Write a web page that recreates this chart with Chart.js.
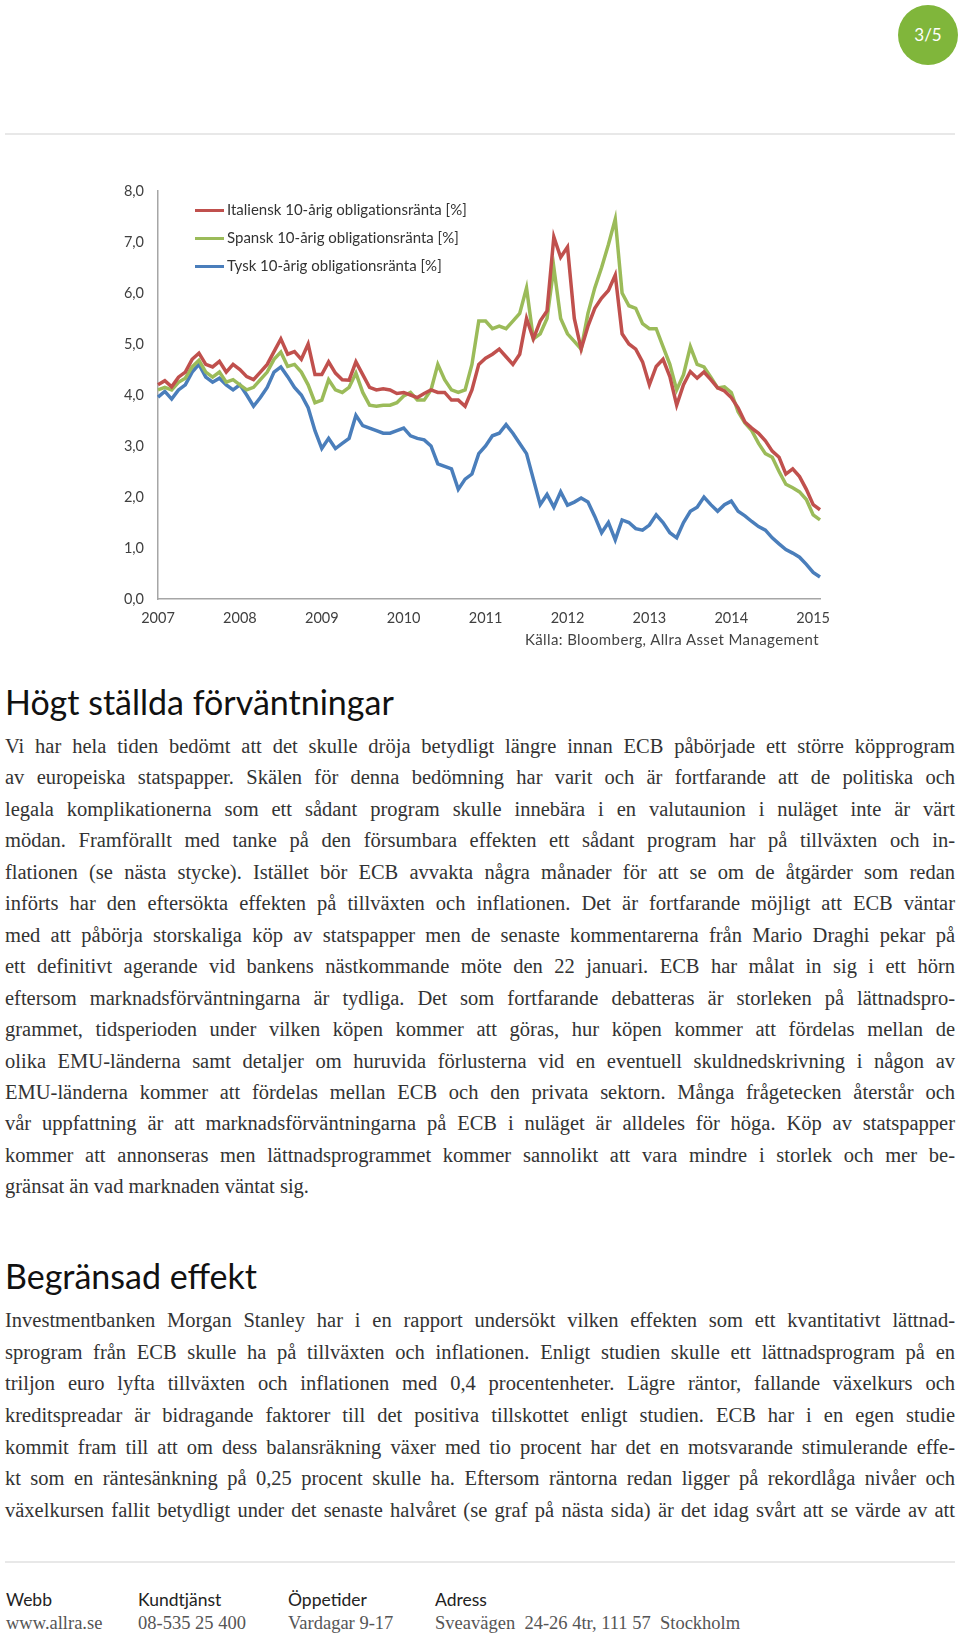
<!DOCTYPE html>
<html>
<head>
<meta charset="utf-8">
<script src="https://cdn.jsdelivr.net/npm/chart.js@4"></script>
<style>
  html, body { margin: 0; padding: 0; background: #fff; }
  body { width: 960px; height: 1637px; position: relative; overflow: hidden; font-family: Lato, sans-serif; }
  .badge { position: absolute; left: 898px; top: 5px; width: 60px; height: 60px; border-radius: 50%; background: #80b63b; color: #fff; font-size: 17px; line-height: 60px; text-align: center; }
  .rule { position: absolute; left: 5px; width: 950px; height: 2px; background: #e8e8e8; }
  #wrap { position: absolute; left: 0; top: 150px; width: 960px; height: 500px; }
  .legend { position: absolute; left: 195px; font-size: 15px; color: #333; font-variant-ligatures: none; }
  .legend div { position: absolute; left: 0; height: 28px; line-height: 28px; white-space: nowrap; }
  .legend span { display: inline-block; width: 29px; height: 3px; vertical-align: middle; margin-right: 3px; position: relative; top: -1px; }
  .source { position: absolute; right: 141px; top: 630px; font-size: 15px; letter-spacing: 0.4px; color: #444; }
  h2 { position: absolute; left: 5px; margin: 0; font-weight: 400; font-size: 34px; color: #111; line-height: 40px; font-family: Lato, sans-serif; }
  .para { position: absolute; left: 5px; width: 950px; font-family: "Liberation Serif", serif; font-size: 20.5px; color: #333; }
  .para div { text-align: justify; text-align-last: justify; white-space: nowrap; }
  .para div.last { text-align-last: left; }
  .foot { position: absolute; font-size: 17.5px; }
  .foot .h { color: #222; font-family: Lato, sans-serif; }
  .foot .v { color: #555; font-family: "Liberation Serif", serif; font-size: 18.5px; margin-top: 3px; }
</style>
</head>
<body>
<div class="badge">3/5</div>
<div class="rule" style="top:133px"></div>

<div id="wrap"><canvas id="myChart"></canvas></div>
<div class="legend" id="legend" style="top:195px"></div>
<div class="source">Källa: Bloomberg, Allra Asset Management</div>

<h2 style="top:682px">Högt ställda förväntningar</h2>
<div class="para" style="top:731px; line-height:31.45px">
<div>Vi har hela tiden bedömt att det skulle dröja betydligt längre innan ECB påbörjade ett större köpprogram</div>
<div>av europeiska statspapper. Skälen för denna bedömning har varit och är fortfarande att de politiska och</div>
<div>legala komplikationerna som ett sådant program skulle innebära i en valutaunion i nuläget inte är värt</div>
<div>mödan. Framförallt med tanke på den försumbara effekten ett sådant program har på tillväxten och in-</div>
<div>flationen (se nästa stycke). Istället bör ECB avvakta några månader för att se om de åtgärder som redan</div>
<div>införts har den eftersökta effekten på tillväxten och inflationen. Det är fortfarande möjligt att ECB väntar</div>
<div>med att påbörja storskaliga köp av statspapper men de senaste kommentarerna från Mario Draghi pekar på</div>
<div>ett definitivt agerande vid bankens nästkommande möte den 22 januari. ECB har målat in sig i ett hörn</div>
<div>eftersom marknadsförväntningarna är tydliga. Det som fortfarande debatteras är storleken på lättnadspro-</div>
<div>grammet, tidsperioden under vilken köpen kommer att göras, hur köpen kommer att fördelas mellan de</div>
<div>olika EMU-länderna samt detaljer om huruvida förlusterna vid en eventuell skuldnedskrivning i någon av</div>
<div>EMU-länderna kommer att fördelas mellan ECB och den privata sektorn. Många frågetecken återstår och</div>
<div>vår uppfattning är att marknadsförväntningarna på ECB i nuläget är alldeles för höga. Köp av statspapper</div>
<div>kommer att annonseras men lättnadsprogrammet kommer sannolikt att vara mindre i storlek och mer be-</div>
<div class="last">gränsat än vad marknaden väntat sig.</div>
</div>

<h2 style="top:1256px">Begränsad effekt</h2>
<div class="para" style="top:1305px; line-height:31.65px">
<div>Investmentbanken Morgan Stanley har i en rapport undersökt vilken effekten som ett kvantitativt lättnad-</div>
<div>sprogram från ECB skulle ha på tillväxten och inflationen. Enligt studien skulle ett lättnadsprogram på en</div>
<div>triljon euro lyfta tillväxten och inflationen med 0,4 procentenheter. Lägre räntor, fallande växelkurs och</div>
<div>kreditspreadar är bidragande faktorer till det positiva tillskottet enligt studien. ECB har i en egen studie</div>
<div>kommit fram till att om dess balansräkning växer med tio procent har det en motsvarande stimulerande effe-</div>
<div>kt som en räntesänkning på 0,25 procent skulle ha. Eftersom räntorna redan ligger på rekordlåga nivåer och</div>
<div>växelkursen fallit betydligt under det senaste halvåret (se graf på nästa sida) är det idag svårt att se värde av att</div>
</div>

<div class="rule" style="top:1561px"></div>
<div class="foot" style="left:6px; top:1589px"><div class="h">Webb</div><div class="v">www.allra.se</div></div>
<div class="foot" style="left:138px; top:1589px"><div class="h">Kundtjänst</div><div class="v">08-535 25 400</div></div>
<div class="foot" style="left:288px; top:1589px"><div class="h">Öppetider</div><div class="v">Vardagar 9-17</div></div>
<div class="foot" style="left:435px; top:1589px"><div class="h">Adress</div><div class="v">Sveavägen&nbsp; 24-26 4tr, 111 57&nbsp; Stockholm</div></div>

<script>
const ctx = document.getElementById('myChart');

// monthly observations, Jan 2007 - mid Jan 2015
const years = [2007, 2008, 2009, 2010, 2011, 2012, 2013, 2014];
const months = ['01','02','03','04','05','06','07','08','09','10','11','12'];
const dates = [];
years.forEach(y => months.forEach(m => dates.push(y + '-' + m)));
dates.push('2015-01', '2015-01-15');

const seriesNames = [
  'Italiensk 10-årig obligationsränta [%]',
  'Spansk 10-årig obligationsränta [%]',
  'Tysk 10-årig obligationsränta [%]'
];
const seriesColors = ['#c0504d', '#9bbb59', '#4a7ebb'];

const italy = [
  4.20, 4.28, 4.16, 4.35, 4.45, 4.70, 4.82, 4.60, 4.55, 4.66, 4.45, 4.60,
  4.50, 4.36, 4.30, 4.45, 4.60, 4.85, 5.10, 4.80, 4.85, 4.70, 5.00, 4.40,
  4.40, 4.65, 4.43, 4.30, 4.29, 4.65, 4.40, 4.15, 4.10, 4.12, 4.10, 4.03,
  4.05, 4.00, 3.95, 4.03, 4.10, 4.05, 4.05, 3.90, 3.90, 3.78, 4.10, 4.60,
  4.72, 4.80, 4.90, 4.75, 4.60, 4.80, 5.50, 5.10, 5.45, 5.65, 7.10, 6.70,
  6.90, 5.50, 4.90, 5.35, 5.70, 5.90, 6.05, 6.35, 5.20, 5.00, 4.90, 4.65,
  4.20, 4.56, 4.70, 4.36, 3.80, 4.20, 4.46, 4.33, 4.45, 4.30, 4.14, 4.08,
  3.95, 3.75, 3.47, 3.35, 3.25, 3.10, 2.90, 2.78, 2.45, 2.55, 2.40, 2.15,
  1.85, 1.75
];
const spain = [
  4.10, 4.15, 4.10, 4.25, 4.33, 4.55, 4.68, 4.45, 4.35, 4.45, 4.25, 4.30,
  4.20, 4.10, 4.15, 4.30, 4.45, 4.70, 4.84, 4.56, 4.60, 4.45, 4.20, 3.85,
  3.90, 4.30, 4.10, 4.05, 4.15, 4.43, 4.05, 3.80, 3.78, 3.80, 3.80, 3.85,
  3.98, 4.05, 3.90, 3.90, 4.10, 4.60, 4.30, 4.10, 4.05, 4.10, 4.60, 5.45,
  5.45, 5.30, 5.35, 5.30, 5.45, 5.60, 6.10, 5.10, 5.20, 5.50, 6.50, 5.50,
  5.20, 5.05, 4.90, 5.60, 6.10, 6.50, 6.95, 7.45, 6.00, 5.75, 5.70, 5.40,
  5.30, 5.30, 4.95, 4.60, 4.10, 4.40, 4.95, 4.60, 4.55, 4.35, 4.14, 4.16,
  4.05, 3.67, 3.45, 3.30, 3.05, 2.85, 2.78, 2.50, 2.25, 2.18, 2.10, 1.95,
  1.65, 1.55
];
const germany = [
  3.96, 4.07, 3.92, 4.10, 4.20, 4.45, 4.60, 4.35, 4.25, 4.33, 4.20, 4.10,
  4.20, 4.00, 3.78, 3.95, 4.15, 4.45, 4.55, 4.36, 4.15, 4.00, 3.75, 3.30,
  2.95, 3.15, 2.95, 3.05, 3.15, 3.60, 3.40, 3.35, 3.30, 3.25, 3.25, 3.30,
  3.35, 3.20, 3.15, 3.12, 3.00, 2.65, 2.60, 2.55, 2.15, 2.35, 2.45, 2.85,
  3.00, 3.20, 3.25, 3.42, 3.25, 3.05, 2.85, 2.35, 1.85, 2.05, 1.80, 2.10,
  1.84, 1.90, 1.98, 1.90, 1.62, 1.30, 1.50, 1.16, 1.55, 1.50, 1.38, 1.35,
  1.45, 1.65, 1.50, 1.30, 1.20, 1.50, 1.72, 1.80, 2.00, 1.85, 1.72, 1.85,
  1.92, 1.72, 1.63, 1.52, 1.42, 1.35, 1.20, 1.08, 0.97, 0.90, 0.82, 0.68,
  0.52, 0.43
];

const yTicks = [0, 1, 2, 3, 4, 5, 6, 7, 8];
const values = [italy, spain, germany];

// legend as plain text above the plot
const legendEl = document.getElementById('legend');
seriesNames.forEach((name, i) => {
  const row = document.createElement('div');
  row.style.top = (i * 28) + 'px';
  row.innerHTML = '<span style="background:' + seriesColors[i] + '"></span>' + name;
  legendEl.appendChild(row);
});

new Chart(ctx, {
  type: 'line',
  data: {
    labels: dates,
    datasets: seriesNames.map((name, i) => ({
      label: name,
      data: values[i],
      borderColor: seriesColors[i],
      backgroundColor: seriesColors[i],
      borderWidth: 3.5,
      pointRadius: 0,
      tension: 0
    }))
  },
  options: {
    responsive: true,
    maintainAspectRatio: false,
    animation: false,
    layout: { padding: { left: 108, right: 140, top: 41, bottom: 21 } },
    plugins: { legend: { display: false }, tooltip: { enabled: false } },
    scales: {
      x: {
        grid: { drawOnChartArea: false, drawTicks: false },
        border: { color: '#a6a6a6', width: 1.5 },
        afterFit: s => { s.height = 30; },
        ticks: {
          autoSkip: false,
          maxRotation: 0,
          padding: 11,
          color: '#404040',
          font: { family: 'Lato', size: 14.5 },
          callback: function(value) {
            const lab = this.getLabelForValue(value);
            return lab.length === 7 && lab.endsWith('-01') ? lab.slice(0, 4) : null;
          }
        }
      },
      y: {
        min: 0,
        max: 8,
        grid: { drawOnChartArea: false, drawTicks: false },
        border: { color: '#a6a6a6', width: 1.5 },
        afterFit: s => { s.width = 50; },
        afterBuildTicks: s => { s.ticks = yTicks.map(v => ({ value: v })); },
        ticks: {
          padding: 14,
          color: '#404040',
          font: { family: 'Lato', size: 14.5 },
          callback: v => v.toFixed(1).replace('.', ',')
        }
      }
    }
  }
});
</script>
</body>
</html>
